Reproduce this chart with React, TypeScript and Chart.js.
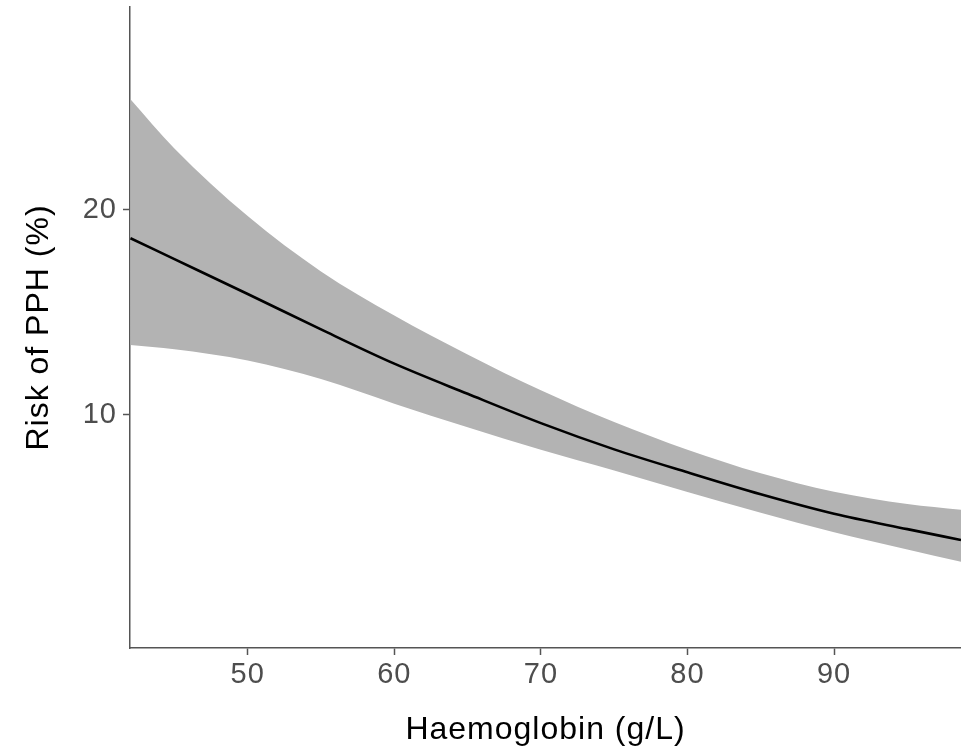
import React, { useEffect, useRef } from "react";
import { Chart, registerables } from "chart.js";

Chart.register(...registerables);

const haemoglobin = [42, 45, 50, 55, 60, 65, 70, 75, 80, 85, 90, 95, 98.66];
const riskEstimate = [18.62, 17.6, 15.9, 14.17, 12.5, 11.03, 9.6, 8.32, 7.2, 6.13, 5.18, 4.43, 3.9];
const riskUpper = [25.4, 23.0, 19.7, 17.0, 14.85, 12.95, 11.2, 9.65, 8.3, 7.15, 6.25, 5.65, 5.37];
const riskLower = [13.41, 13.2, 12.65, 11.75, 10.55, 9.4, 8.3, 7.29, 6.24, 5.23, 4.28, 3.44, 2.84];

const xTicks = [50, 60, 70, 80, 90];
const yTicks = [10, 20];
const xTitle = "Haemoglobin (g/L)";
const yTitle = "Risk of PPH (%)";

const FONT = "'Liberation Sans', Arial, Helvetica, sans-serif";

const spacingPlugin = {
  id: "letterSpacing",
  beforeLayout: (chart: any) => {
    (chart.ctx as any).letterSpacing = "1px";
  },
  beforeDraw: (chart: any) => {
    (chart.ctx as any).letterSpacing = "1px";
  },
};

export default function App() {
  const canvasRef = useRef<HTMLCanvasElement | null>(null);

  useEffect(() => {
    const canvas = canvasRef.current;
    if (!canvas) return;
    const toPts = (ys: number[]) => haemoglobin.map((x, i) => ({ x, y: ys[i] }));
    const chart = new Chart(canvas, {
      type: "line",
      plugins: [spacingPlugin],
      data: {
        datasets: [
          {
            label: "Risk",
            data: toPts(riskEstimate),
            borderColor: "#000000",
            borderWidth: 2.6,
            pointRadius: 0,
            fill: false,
            cubicInterpolationMode: "monotone",
          },
          {
            label: "Upper",
            data: toPts(riskUpper),
            borderWidth: 0,
            borderColor: "rgba(0,0,0,0)",
            backgroundColor: "#b3b3b3",
            pointRadius: 0,
            fill: "+1",
            cubicInterpolationMode: "monotone",
          },
          {
            label: "Lower",
            data: toPts(riskLower),
            borderWidth: 0,
            borderColor: "rgba(0,0,0,0)",
            backgroundColor: "#b3b3b3",
            pointRadius: 0,
            fill: false,
            cubicInterpolationMode: "monotone",
          },
        ],
      },
      options: {
        animation: false,
        responsive: false,
        devicePixelRatio: 1,
        layout: { padding: { top: 7, right: 0, left: 0, bottom: 0 } },
        plugins: { legend: { display: false }, tooltip: { enabled: false } },
        scales: {
          x: {
            type: "linear",
            min: 41.97,
            max: 98.66,
            afterBuildTicks: (scale: any) => {
              scale.ticks = xTicks.map((v) => ({ value: v }));
            },
            afterFit: (scale: any) => {
              scale.height = 102;
              scale.paddingLeft = 0;
              scale.paddingRight = 0;
            },
            grid: {
              drawOnChartArea: false,
              drawTicks: true,
              tickLength: 7,
              tickColor: "#555555",
              tickWidth: 1.5,
            },
            border: { display: true, color: "#555555", width: 1.5 },
            ticks: {
              color: "#4d4d4d",
              font: { family: FONT, size: 29 },
              padding: 3,
              maxRotation: 0,
              autoSkip: false,
            },
            title: {
              display: true,
              text: xTitle,
              color: "#000000",
              font: { family: FONT, size: 32 },
              padding: { top: 0, bottom: 1 },
            },
          },
          y: {
            type: "linear",
            min: -1.37,
            max: 29.9,
            afterBuildTicks: (scale: any) => {
              scale.ticks = yTicks.map((v) => ({ value: v }));
            },
            afterFit: (scale: any) => {
              scale.width = 130;
              scale.paddingTop = 0;
              scale.paddingBottom = 0;
            },
            grid: {
              drawOnChartArea: false,
              drawTicks: true,
              tickLength: 7,
              tickColor: "#555555",
              tickWidth: 1.5,
            },
            border: { display: true, color: "#555555", width: 1.5 },
            ticks: {
              color: "#4d4d4d",
              font: { family: FONT, size: 29 },
              padding: 6,
              autoSkip: false,
            },
            title: {
              display: true,
              text: yTitle,
              color: "#000000",
              font: { family: FONT, size: 32 },
              padding: { top: 20, bottom: 0 },
            },
          },
        },
      },
    });
    return () => chart.destroy();
  }, []);

  return (
    <div style={{ position: "fixed", left: 0, top: 0, width: 961, height: 750, background: "#ffffff" }}>
      <canvas ref={canvasRef} width={961} height={750} style={{ display: "block", width: 961, height: 750 }} />
    </div>
  );
}
